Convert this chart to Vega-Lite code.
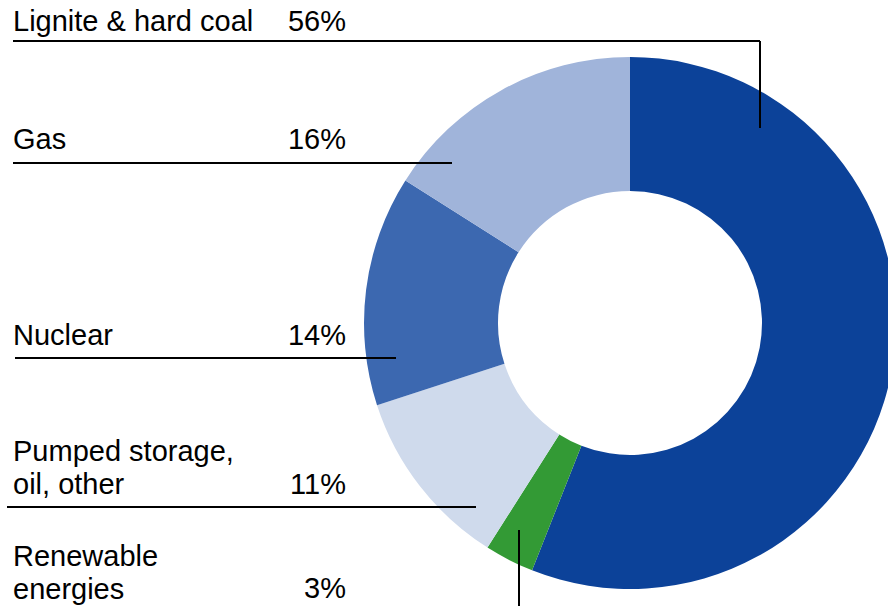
{
  "$schema": "https://vega.github.io/schema/vega-lite/v6.json",
  "width": 888,
  "height": 606,
  "padding": 0,
  "autosize": {"type": "none"},
  "background": "white",
  "config": {"view": {"stroke": null}},
  "data": {
    "values": [
      {"category": "Lignite & hard coal", "label": "Lignite & hard coal", "share": 0.56, "order": 1, "rank": 1},
      {"category": "Renewable energies", "label": "Renewable\nenergies", "share": 0.03, "order": 2, "rank": 5},
      {"category": "Pumped storage, oil, other", "label": "Pumped storage,\noil, other", "share": 0.11, "order": 3, "rank": 4},
      {"category": "Nuclear", "label": "Nuclear", "share": 0.14, "order": 4, "rank": 3},
      {"category": "Gas", "label": "Gas", "share": 0.16, "order": 5, "rank": 2}
    ]
  },
  "resolve": {"scale": {"x": "independent", "y": "independent"}},
  "layer": [
    {
      "mark": {"type": "arc", "innerRadius": 132, "outerRadius": 266, "stroke": null},
      "encoding": {
        "theta": {"field": "share", "type": "quantitative", "stack": true},
        "order": {"field": "order", "type": "quantitative"},
        "color": {
          "field": "category",
          "type": "nominal",
          "scale": {
            "domain": ["Lignite & hard coal", "Renewable energies", "Pumped storage, oil, other", "Nuclear", "Gas"],
            "range": ["#0c4299", "#339a35", "#cfdaec", "#3c68b0", "#a0b4da"]
          },
          "legend": null
        },
        "x": {"datum": 630, "type": "quantitative", "scale": {"domain": [0, 888]}, "axis": null},
        "y": {"datum": 323, "type": "quantitative", "scale": {"domain": [0, 606], "reverse": true}, "axis": null}
      }
    },
    {
      "mark": {"type": "text", "align": "left", "baseline": "alphabetic", "font": "Liberation Sans", "fontSize": 29, "lineBreak": "\n", "lineHeight": 33, "color": "#000000"},
      "encoding": {
        "text": {"field": "label", "type": "nominal"},
        "x": {"datum": 13, "type": "quantitative", "scale": {"domain": [0, 888]}, "axis": null},
        "y": {"field": "rank", "type": "quantitative", "scale": {"domain": [1, 2, 3, 4, 5], "range": [31, 149, 345, 461, 566]}, "axis": null}
      }
    },
    {
      "mark": {"type": "text", "align": "right", "baseline": "alphabetic", "font": "Liberation Sans", "fontSize": 29, "color": "#000000"},
      "encoding": {
        "text": {"field": "share", "type": "quantitative", "format": ".0%"},
        "x": {"datum": 346, "type": "quantitative", "scale": {"domain": [0, 888]}, "axis": null},
        "y": {"field": "rank", "type": "quantitative", "scale": {"domain": [1, 2, 3, 4, 5], "range": [31, 149, 345, 494, 598]}, "axis": null}
      }
    },
    {
      "transform": [{"filter": "datum.rank <= 4"}],
      "mark": {"type": "rule", "strokeWidth": 2, "color": "#000000"},
      "encoding": {
        "x": {"field": "share", "type": "quantitative", "scale": {"domain": [0.11, 0.14, 0.16, 0.56, 1, 2, 3, 4], "range": [7, 15, 13, 13, 760, 452, 396, 476]}, "axis": null},
        "x2": {"field": "rank"},
        "y": {"field": "rank", "type": "quantitative", "scale": {"domain": [1, 2, 3, 4], "range": [41, 163, 358, 507]}, "axis": null}
      }
    },
    {
      "transform": [{"filter": "datum.rank == 1"}],
      "mark": {"type": "rule", "strokeWidth": 2, "color": "#000000"},
      "encoding": {
        "x": {"datum": 760, "type": "quantitative", "scale": {"domain": [0, 888]}, "axis": null},
        "y": {"datum": 41, "type": "quantitative", "scale": {"domain": [0, 606], "reverse": true}, "axis": null},
        "y2": {"datum": 128}
      }
    },
    {
      "transform": [{"filter": "datum.rank == 5"}],
      "mark": {"type": "rule", "strokeWidth": 2, "color": "#000000"},
      "encoding": {
        "x": {"datum": 519, "type": "quantitative", "scale": {"domain": [0, 888]}, "axis": null},
        "y": {"datum": 530, "type": "quantitative", "scale": {"domain": [0, 606], "reverse": true}, "axis": null},
        "y2": {"datum": 606}
      }
    }
  ]
}
